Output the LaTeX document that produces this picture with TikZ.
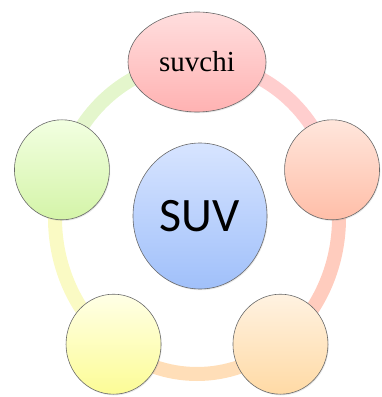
\documentclass[tikz,border=0pt]{standalone}
\usepackage{fontspec}
\setmainfont{Liberation Serif}
\newfontfamily\hubfont{Carlito}
\usetikzlibrary{shapes.geometric}
\usetikzlibrary{backgrounds}
\usetikzlibrary{shadows}
\definecolor{rosetop}{RGB}{255, 222, 222}
\definecolor{rosebot}{RGB}{255, 178, 178}
\definecolor{salmtop}{RGB}{255, 230, 220}
\definecolor{salmbot}{RGB}{255, 190, 168}
\definecolor{peachtop}{RGB}{255, 242, 225}
\definecolor{peachbot}{RGB}{255, 218, 165}
\definecolor{lemontop}{RGB}{255, 255, 230}
\definecolor{lemonbot}{RGB}{252, 252, 150}
\definecolor{limetop}{RGB}{242, 255, 225}
\definecolor{limebot}{RGB}{212, 244, 168}
\definecolor{skytop}{RGB}{215, 228, 255}
\definecolor{skybot}{RGB}{160, 192, 250}
\definecolor{rimgray}{RGB}{105, 105, 105}

\tikzset{
  bubble/.style={ellipse, draw=rimgray, line width=0.6pt, shading=axis,
    inner sep=0pt, minimum width=95pt, minimum height=100pt,
    drop shadow={opacity=0.18, shadow xshift=0.8pt, shadow yshift=-1.2pt}},
  ringarc/.style={line width=14pt, line cap=butt}
}

\begin{document}
\begin{tikzpicture}[x=1pt, y=1pt]
            \useasboundingbox (0,0) rectangle (381,397);
            \coordinate (hub) at (197,179);
            % Outer bubbles on the ring
            \node[bubble, minimum width=138pt, top color=rosetop, bottom color=rosebot,
                  font=\fontsize{29}{32}\selectfont]
                 (suvchi) at ([shift={(90:142pt and 156pt)}]hub) {suvchi};
            \node[bubble, top color=salmtop,  bottom color=salmbot]  (east)      at ([shift={(18:142pt and 156pt)}]hub)   {};
            \node[bubble, top color=peachtop, bottom color=peachbot] (southeast) at ([shift={(-54:142pt and 156pt)}]hub)  {};
            \node[bubble, top color=lemontop, bottom color=lemonbot] (southwest) at ([shift={(-126:142pt and 156pt)}]hub) {};
            \node[bubble, top color=limetop,  bottom color=limebot]  (west)      at ([shift={(162:142pt and 156pt)}]hub)  {};
            % Centre bubble
            \node[bubble, minimum width=134pt, minimum height=146pt, top color=skytop, bottom color=skybot,
                  font=\hubfont\fontsize{48}{52}\selectfont]
                 (suv) at (200,181) {SUV};
            % Ring segments behind the bubbles
            \begin{scope}[on background layer]
              \draw[ringarc, color={rgb,255:red,255;green,206;blue,206}]
                   (suvchi.center) arc[start angle=90, end angle=18, x radius=142pt, y radius=156pt];
              \draw[ringarc, color={rgb,255:red,255;green,204;blue,190}]
                   (east.center) arc[start angle=18, end angle=-54, x radius=142pt, y radius=156pt];
              \draw[ringarc, color={rgb,255:red,255;green,222;blue,184}]
                   (southeast.center) arc[start angle=-54, end angle=-126, x radius=142pt, y radius=156pt];
              \draw[ringarc, color={rgb,255:red,250;green,250;blue,196}]
                   (southwest.center) arc[start angle=-126, end angle=-198, x radius=142pt, y radius=156pt];
              \draw[ringarc, color={rgb,255:red,228;green,246;blue,204}]
                   (west.center) arc[start angle=162, end angle=90, x radius=142pt, y radius=156pt];
            \end{scope}
\end{tikzpicture}
\end{document}
